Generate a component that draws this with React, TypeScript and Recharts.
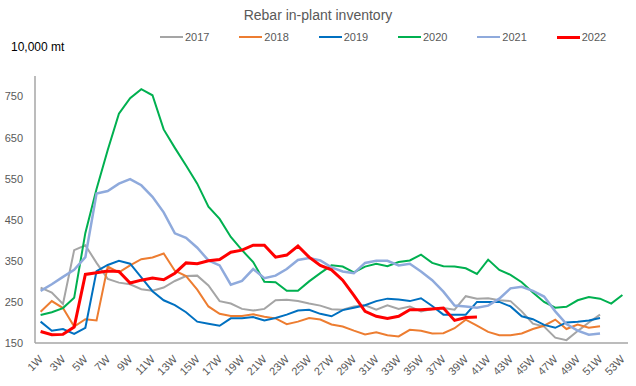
import React from 'react';
import { LineChart, Line, XAxis, YAxis, Legend } from 'recharts';

const weeks = Array.from({ length: 53 }, (_, i) => `${i + 1}W`);

const y2017 = [285, 273, 245, 376, 388, 345, 306, 297, 293, 281, 277, 285, 301, 313, 314, 290, 252, 246, 233, 229, 233, 254, 255, 252, 246, 241, 232, 231, 239, 242, 231, 242, 233, 239, 227, 233, 235, 231, 264, 258, 259, 254, 252, 227, 197, 190, 163, 157, 179, 200, 219];
const y2018 = [226, 252, 235, 190, 208, 205, 336, 322, 339, 354, 358, 368, 326, 313, 280, 239, 221, 216, 216, 220, 214, 210, 196, 202, 211, 207, 195, 190, 180, 171, 176, 169, 166, 182, 180, 173, 174, 186, 207, 192, 177, 169, 169, 173, 184, 192, 207, 184, 195, 187, 191];
const y2019 = [202, 180, 184, 172, 187, 325, 340, 350, 343, 310, 276, 254, 242, 225, 202, 197, 192, 210, 210, 213, 205, 211, 219, 229, 231, 221, 215, 230, 236, 242, 252, 258, 256, 252, 259, 240, 219, 219, 219, 250, 250, 250, 239, 215, 208, 194, 187, 200, 202, 205, 211];
const y2020 = [218, 225, 235, 260, 418, 525, 620, 708, 746, 768, 753, 670, 625, 582, 538, 482, 452, 408, 376, 347, 299, 298, 277, 277, 300, 320, 339, 336, 322, 336, 343, 337, 347, 351, 365, 345, 337, 336, 332, 318, 353, 328, 316, 298, 273, 250, 236, 238, 254, 262, 258, 246, 267];
const y2021 = [277, 293, 311, 328, 359, 514, 520, 538, 549, 534, 506, 468, 417, 406, 382, 351, 339, 292, 301, 330, 308, 314, 330, 352, 357, 351, 334, 324, 320, 345, 350, 350, 339, 343, 324, 303, 275, 241, 239, 236, 241, 258, 283, 287, 277, 263, 227, 196, 180, 170, 173];
const y2022 = [178, 170, 171, 189, 317, 321, 325, 324, 296, 303, 308, 304, 320, 345, 343, 350, 353, 371, 376, 388, 388, 359, 364, 386, 359, 339, 328, 303, 266, 227, 215, 210, 215, 231, 231, 233, 235, 205, 212, 213];

const yTicks = [150, 250, 350, 450, 550, 650, 750];

const series = [
  { key: 'y2017', name: '2017', color: '#a5a5a5', width: 2 },
  { key: 'y2018', name: '2018', color: '#ed7d31', width: 2 },
  { key: 'y2019', name: '2019', color: '#0070c0', width: 2 },
  { key: 'y2020', name: '2020', color: '#00b050', width: 2 },
  { key: 'y2021', name: '2021', color: '#8faadc', width: 2.5 },
  { key: 'y2022', name: '2022', color: '#ff0000', width: 3 },
];

const data = weeks.map((week, i) => ({
  week,
  y2017: y2017[i],
  y2018: y2018[i],
  y2019: y2019[i],
  y2020: y2020[i],
  y2021: y2021[i],
  y2022: y2022[i],
}));

const font = '"Liberation Sans", Arial, sans-serif';

const WeekTick = (props: any) => {
  const { x, y, payload } = props;
  return (
    <g transform={`translate(${x + 3},${y + 9})`}>
      <text x={0} y={0} textAnchor="end" fill="#595959" fontSize={11} fontFamily={font} transform="rotate(-45)">
        {payload.value}
      </text>
    </g>
  );
};

const LegendRow = () => (
  <div style={{ display: 'flex', paddingLeft: 160, fontFamily: font, fontSize: 11, color: '#595959' }}>
    {series.map((s) => (
      <div key={s.key} style={{ width: 81, display: 'flex', alignItems: 'center' }}>
        <span style={{ display: 'inline-block', width: 23, height: s.width, background: s.color, marginRight: 2 }} />
        <span>{s.name}</span>
      </div>
    ))}
  </div>
);

export default function App() {
  return (
    <div style={{ position: 'absolute', left: 0, top: 0, width: 636, height: 386, background: '#fff' }}>
      <div style={{ position: 'absolute', top: 7, width: 636, textAlign: 'center', fontFamily: font, fontSize: 14, color: '#595959' }}>
        Rebar in-plant inventory
      </div>
      <div style={{ position: 'absolute', top: 40, left: 11, fontFamily: font, fontSize: 12, color: '#000' }}>
        10,000 mt
      </div>
      <LineChart width={636} height={386} data={data} margin={{ top: 64, right: 8, left: 0, bottom: 0 }}>
        <XAxis
          dataKey="week"
          interval={1}
          height={43}
          tick={<WeekTick />}
          tickLine={false}
          axisLine={{ stroke: '#a6a6a6', strokeWidth: 1.5 }}
          padding={{ left: 5.6, right: 5.6 }}
        />
        <YAxis
          domain={[150, 800]}
          ticks={yTicks}
          width={35}
          tickLine={false}
          tickSize={0}
          tickMargin={12}
          axisLine={{ stroke: '#a6a6a6', strokeWidth: 1.5 }}
          tick={{ fill: '#595959', fontSize: 11, fontFamily: font }}
        />
        <Legend verticalAlign="top" wrapperStyle={{ top: 31, left: 0, width: 636 }} content={<LegendRow />} />
        {series.map((s) => (
          <Line
            key={s.key}
            dataKey={s.key}
            name={s.name}
            stroke={s.color}
            strokeWidth={s.width}
            dot={false}
            type="linear"
            isAnimationActive={false}
          />
        ))}
      </LineChart>
    </div>
  );
}
